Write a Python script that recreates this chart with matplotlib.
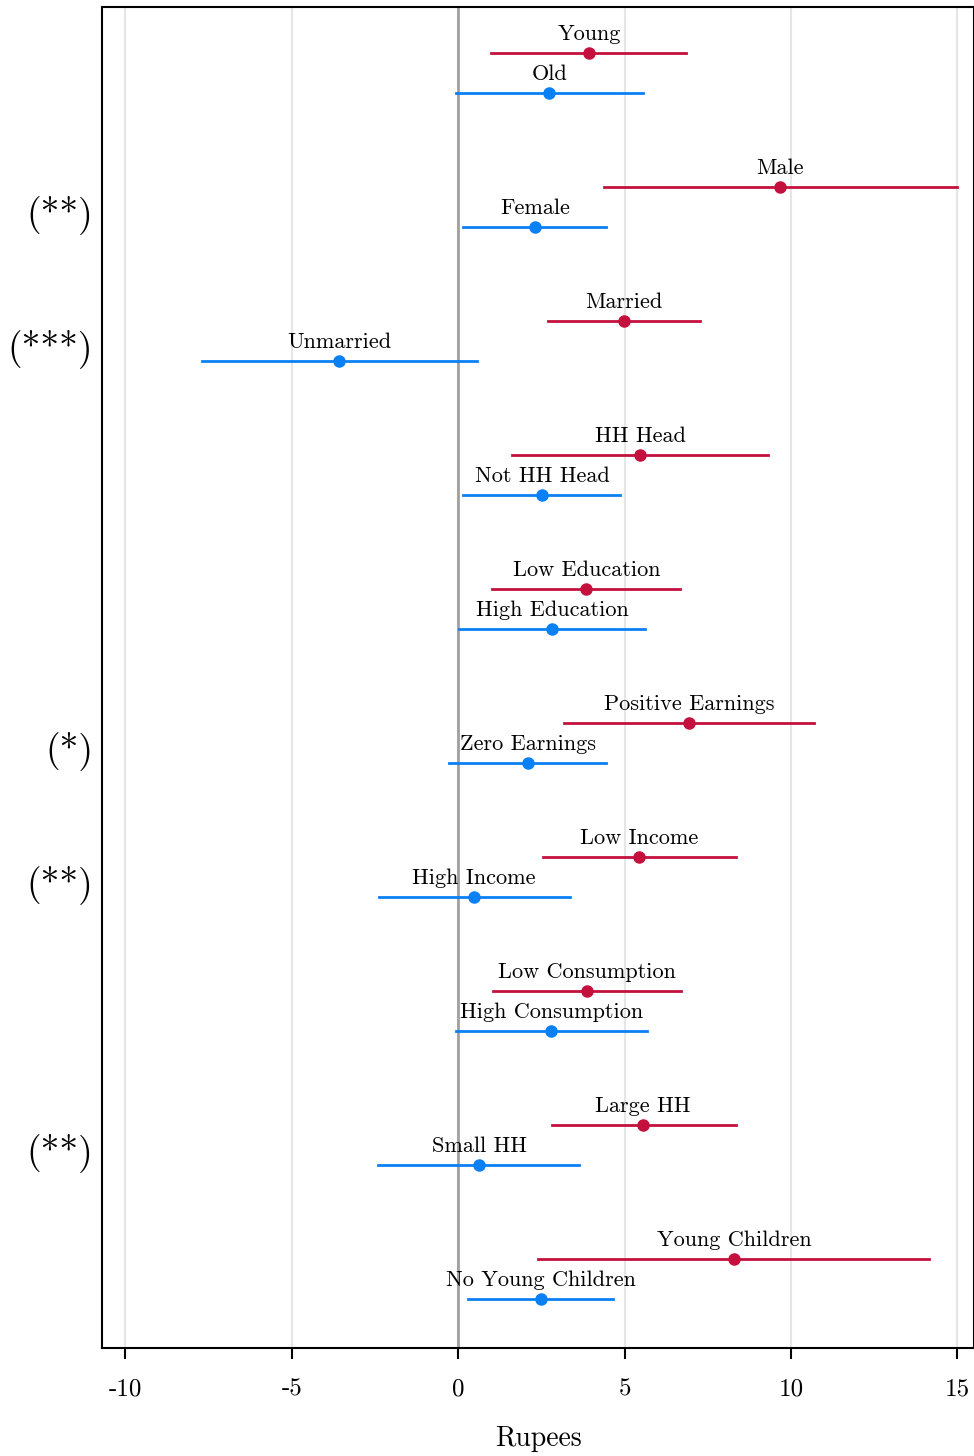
import matplotlib
matplotlib.use("Agg")
import matplotlib.pyplot as plt
import numpy as np

plt.rcParams['font.family'] = ['cmr10', 'DejaVu Serif']
plt.rcParams['axes.unicode_minus'] = False

red_labels = ["Young", "Male", "Married", "HH Head", "Low Education", "Positive Earnings",
              "Low Income", "Low Consumption", "Large HH", "Young Children"]
red_est = [3.94, 9.68, 4.99, 5.47, 3.85, 6.94, 5.44, 3.88, 5.56, 8.30]
red_lo = [0.99, 4.39, 2.70, 1.62, 1.02, 3.19, 2.55, 1.05, 2.83, 2.40]
red_hi = [6.85, 15.0, 7.27, 9.32, 6.67, 10.70, 8.36, 6.70, 8.36, 14.16]

blue_labels = ["Old", "Female", "Unmarried", "Not HH Head", "High Education", "Zero Earnings",
               "High Income", "High Consumption", "Small HH", "No Young Children"]
blue_est = [2.74, 2.31, -3.58, 2.52, 2.83, 2.10, 0.48, 2.80, 0.63, 2.49]
blue_lo = [-0.06, 0.15, -7.69, 0.15, 0.03, -0.27, -2.37, -0.06, -2.40, 0.30]
blue_hi = [5.56, 4.45, 0.57, 4.87, 5.62, 4.45, 3.37, 5.68, 3.64, 4.66]

stars = ["", "(**)", "(***)", "", "", "(*)", "(**)", "", "(**)", ""]

xticks = [-10, -5, 0, 5, 10, 15]
xtick_labels = ["-10", "-5", "0", "5", "10", "15"]

RED = "#C4103C"
BLUE = "#0A80F5"

fig = plt.figure(figsize=(9.74, 14.56), dpi=100)
ax = fig.add_axes([102/974, 108/1456, 872/974, 1341/1456])
off = 20/134
for g in range(len(red_labels)):
    yr, yb = g - off, g + off
    ax.plot([red_lo[g], red_hi[g]], [yr, yr], color=RED, lw=2, zorder=3)
    ax.plot(red_est[g], yr, 'o', color=RED, ms=8, zorder=4)
    ax.text(red_est[g], yr - 0.07, red_labels[g], ha='center', va='bottom', fontsize=16)
    ax.plot([blue_lo[g], blue_hi[g]], [yb, yb], color=BLUE, lw=2, zorder=3)
    ax.plot(blue_est[g], yb, 'o', color=BLUE, ms=8, zorder=4)
    ax.text(blue_est[g], yb - 0.07, blue_labels[g], ha='center', va='bottom', fontsize=16)
    if stars[g]:
        ax.text(-0.01, g + 0.06, stars[g], transform=ax.get_yaxis_transform(),
                ha='right', va='center', fontsize=27)

for t in xticks:
    ax.axvline(t, color='#e6e6e6', lw=1.5, zorder=1)
ax.axvline(0, color='#a0a0a0', lw=2, zorder=2)

ax.set_xlim(-10.7, 15.5)
ax.set_ylim(9.515, -0.4925)
ax.set_xticks(xticks)
ax.set_xticklabels(xtick_labels, fontsize=18)
ax.set_yticks([])
ax.tick_params(axis='x', length=8, width=1.5, pad=14)
ax.set_xlabel("Rupees", fontsize=20, labelpad=18)
for s in ax.spines.values():
    s.set_linewidth(1.5)
fig.savefig("out.png", dpi=100)
